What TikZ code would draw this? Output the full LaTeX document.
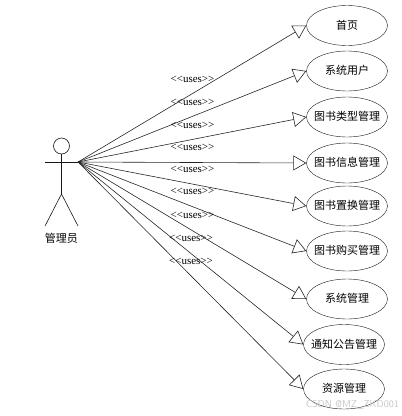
\documentclass[tikz,border=0pt]{standalone}
\usepackage{fontspec}
\setmainfont{Liberation Serif}
\newfontfamily\cjk{Noto Sans CJK SC}
\usetikzlibrary{arrows.meta,shapes.geometric}
\newcommand{\casetext}[1]{\makebox[0pt]{\raisebox{-3.8pt}[0pt][0pt]{#1}}}
\tikzset{
  usecase/.style={draw=black!90,ellipse,minimum width=81pt,minimum height=40pt,inner sep=0pt,font=\cjk\fontsize{11}{12}\selectfont},
  assoc/.style={draw=black!85,line width=0.6pt,-{Triangle[open,length=13pt,width=15pt,fill=white]}},
  stereo/.style={font=\fontsize{11}{12}\selectfont,inner sep=0pt},
  actorline/.style={draw=black!90,line width=0.6pt}
}
\begin{document}
\begin{tikzpicture}[x=1pt,y=-1pt]
\useasboundingbox (0,0) rectangle (402,416);
\node[usecase] (u1) at (347,25.5) {\casetext{首页}};
\node[usecase] (u2) at (347,71) {\casetext{系统用户}};
\node[usecase] (u3) at (347,117) {\casetext{图书类型管理}};
\node[usecase] (u4) at (347,163) {\casetext{图书信息管理}};
\node[usecase] (u5) at (347,206) {\casetext{图书置换管理}};
\node[usecase] (u6) at (347,251) {\casetext{图书购买管理}};
\node[usecase] (u7) at (347,299) {\casetext{系统管理}};
\node[usecase] (u8) at (344,344.5) {\casetext{通知公告管理}};
\node[usecase] (u9) at (344,389) {\casetext{资源管理}};
\coordinate (hub) at (78,162);
\coordinate (armL) at (45,162);
\coordinate (hip) at (61.5,194);
\coordinate (legL) at (45,226);
\coordinate (legR) at (78,226);
\node[draw=black!90,line width=0.6pt,circle,minimum size=16pt,inner sep=0pt] (head) at (61.5,146) {};
\draw[actorline] (head.south) -- (hip);
\draw[actorline] (armL) -- (hub);
\draw[actorline] (legL) -- (hip) -- (legR);
\node[font=\cjk\fontsize{11}{12}\selectfont,inner sep=0pt] (actor) at (61.5,238.5) {管理员};
\foreach \i in {1,...,9} \draw[assoc] (hub) -- (u\i.west);
\node[stereo] (s1) at (192.5,79) {<{}<uses>{}>};
\node[stereo] (s2) at (192.5,102) {<{}<uses>{}>};
\node[stereo] (s3) at (192.5,125) {<{}<uses>{}>};
\node[stereo] (s4) at (192.5,147) {<{}<uses>{}>};
\node[stereo] (s5) at (192.5,169) {<{}<uses>{}>};
\node[stereo] (s6) at (192.5,191) {<{}<uses>{}>};
\node[stereo] (s7) at (192.5,215) {<{}<uses>{}>};
\node[stereo] (s8) at (191,238) {<{}<uses>{}>};
\node[stereo] (s9) at (191,261) {<{}<uses>{}>};
\node[font=\sffamily\fontsize{10}{11}\selectfont,text=black!22,inner sep=0pt,anchor=east] (wm) at (399,404.5) {CSDN @MZ\_ZKD001};
\end{tikzpicture}
\end{document}
